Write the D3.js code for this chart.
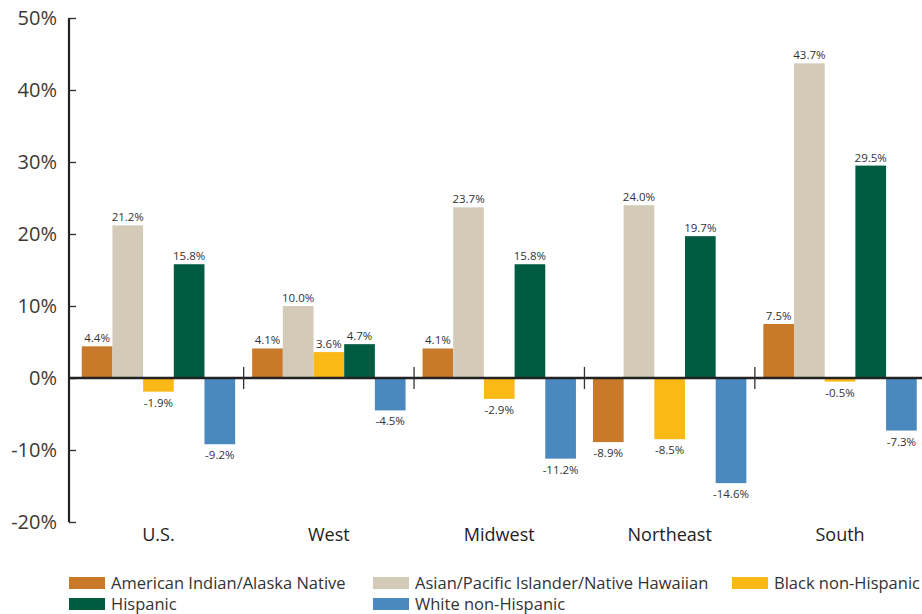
<!DOCTYPE html>
<html>
<head>
<meta charset="utf-8">
<script src="https://cdn.jsdelivr.net/npm/d3@7"></script>
<style>
  html, body { margin: 0; padding: 0; background: #fff; }
  svg { display: block; font-family: "Open Sans", "Noto Sans", sans-serif; }
</style>
</head>
<body>
<svg id="chart" width="922" height="614"></svg>
<script>
// Population change by race/ethnicity and region (percent)
const regions = ["U.S.", "West", "Midwest", "Northeast", "South"];
const seriesNames = [
  "American Indian/Alaska Native",
  "Asian/Pacific Islander/Native Hawaiian",
  "Black non-Hispanic",
  "Hispanic",
  "White non-Hispanic"
];
const americanIndian = [4.4, 4.1, 4.1, -8.9, 7.5];
const asianPacific   = [21.2, 10.0, 23.7, 24.0, 43.7];
const blackNonHisp   = [-1.9, 3.6, -2.9, -8.5, -0.5];
const hispanic       = [15.8, 4.7, 15.8, 19.7, 29.5];
const whiteNonHisp   = [-9.2, -4.5, -11.2, -14.6, -7.3];
const yTicks = [-20, -10, 0, 10, 20, 30, 40, 50];
const colors = ["#c8792a", "#d3cbb8", "#fbb918", "#005c40", "#4a88c0"];

const seriesValues = [americanIndian, asianPacific, blackNonHisp, hispanic, whiteNonHisp];
const rows = [];
regions.forEach((r, i) => {
  seriesNames.forEach((s, j) => rows.push({ region: r, series: s, value: seriesValues[j][i], color: colors[j] }));
});

const svg = d3.select("#chart");
const axisX = 69;

const y = d3.scaleLinear().domain([-20, 50]).range([522, 18]);
const x0 = d3.scaleBand().domain(regions).range([73.25, 925.25]).padding(0);
const x1 = d3.scaleBand().domain(seriesNames).range([8.5, x0.bandwidth() - 8.5]).padding(0);

// bars
svg.append("g").selectAll("rect").data(rows).join("rect")
  .attr("x", d => x0(d.region) + x1(d.series))
  .attr("width", x1.bandwidth())
  .attr("y", d => y(Math.max(0, d.value)))
  .attr("height", d => Math.abs(y(d.value) - y(0)))
  .attr("fill", d => d.color);

// value labels
svg.append("g").selectAll("text").data(rows).join("text")
  .attr("x", d => x0(d.region) + x1(d.series) + x1.bandwidth() / 2)
  .attr("y", d => d.value >= 0 ? y(d.value) - 4 : y(d.value) + 15)
  .attr("text-anchor", "middle")
  .attr("font-size", 11.5)
  .attr("fill", "#333")
  .text(d => d.value.toFixed(1) + "%");

// y axis
const yAxis = d3.axisRight(y).tickValues(yTicks).tickSize(7).tickFormat("");
const gy = svg.append("g").attr("transform", `translate(${axisX},0)`).call(yAxis);
gy.select(".domain").attr("stroke", "#222").attr("stroke-width", 2.2).attr("d", `M0,${y(50)}V${y(-20)}`);
gy.selectAll(".tick line").attr("stroke", "#333").attr("stroke-width", 1.4);

svg.append("g").selectAll("text").data(yTicks).join("text")
  .attr("x", 57)
  .attr("y", d => y(d) + 7)
  .attr("text-anchor", "end")
  .attr("font-size", 20)
  .attr("fill", "#3a3a3a")
  .text(d => d + "%");

// zero baseline
svg.append("line")
  .attr("x1", axisX).attr("x2", 922)
  .attr("y1", y(0)).attr("y2", y(0))
  .attr("stroke", "#222").attr("stroke-width", 2.5);

// group separators
svg.append("g").selectAll("line").data(regions.slice(1)).join("line")
  .attr("x1", d => x0(d)).attr("x2", d => x0(d))
  .attr("y1", y(0) - 11).attr("y2", y(0) + 11)
  .attr("stroke", "#333").attr("stroke-width", 1.3);

// region labels
svg.append("g").selectAll("text").data(regions).join("text")
  .attr("x", d => x0(d) + x0.bandwidth() / 2)
  .attr("y", 541)
  .attr("text-anchor", "middle")
  .attr("font-size", 18)
  .attr("fill", "#222")
  .text(d => d);

// legend
const legendPos = [[69, 583], [373, 583], [732, 583], [69, 604], [373, 604]];
const lg = svg.append("g").selectAll("g").data(seriesNames).join("g")
  .attr("transform", (d, i) => `translate(${legendPos[i][0]},${legendPos[i][1]})`);
lg.append("rect").attr("x", 0).attr("y", -6).attr("width", 36).attr("height", 12)
  .attr("fill", (d, i) => colors[i]);
lg.append("text").attr("x", 42).attr("y", 6)
  .attr("font-size", 16.5).attr("fill", "#333")
  .text(d => d);
</script>
</body>
</html>
